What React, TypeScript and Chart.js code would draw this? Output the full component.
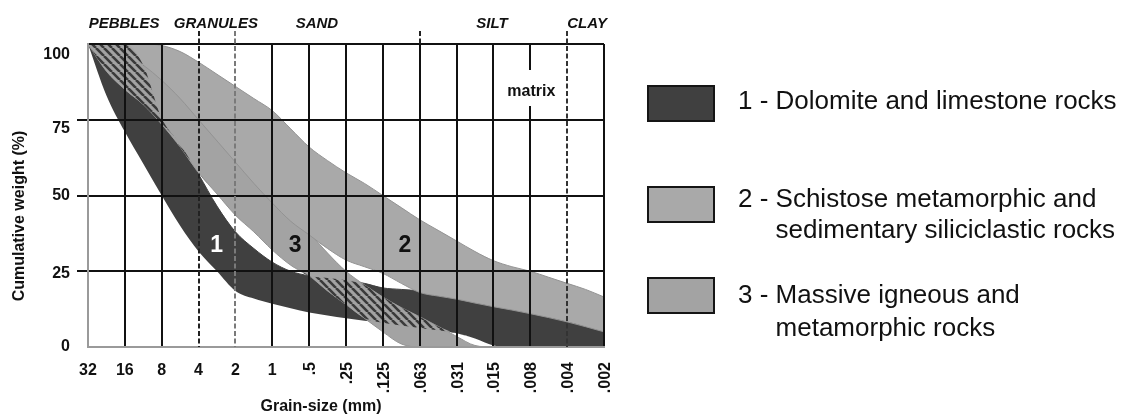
import { useEffect, useRef } from "react";
import { Chart, registerables } from "chart.js";

Chart.register(...registerables);

const FONT = '"Liberation Sans", Arial, Helvetica, sans-serif';

// Sieve classes along the x axis (phi steps 0..14)
const GRAIN_SIZES = ["32", "16", "8", "4", "2", "1", ".5", ".25", ".125", ".063", ".031", ".015", ".008", ".004", ".002"];
const UPRIGHT_LABELS = 6; // the coarser sizes are written horizontally, the rest on end

// Cumulative weight curves sampled every half step
const STEPS = [0, 0.5, 1, 1.5, 2, 2.5, 3, 3.5, 4, 4.5, 5, 5.5, 6, 6.5, 7, 7.5, 8, 8.5, 9, 9.5, 10, 10.5, 11, 11.5, 12, 12.5, 13, 13.5, 14];

const DOLOMITE_LOWER = [100, 83, 71, 60.5, 50, 40, 31.5, 25, 18.5, 16, 14.3, 12.8, 11.4, 10.4, 9.5, 8.7, 8, 7.1, 6.3, 5.5, 4.5, 2.8, 0.5, 0, 0, 0, 0, 0, 0];
const DOLOMITE_UPPER = [100, 100, 100, 93, 75.5, 67, 57, 46.5, 38, 32.5, 28, 25, 23.5, 22.8, 22, 21, 19.5, 19, 18.5, 17.3, 16.3, 15.2, 14, 13, 12, 10.8, 9.5, 8, 6.5];

const SCHIST_LOWER = [100, 99, 97, 93, 88, 82, 75, 68, 61, 54, 47.5, 41.5, 37, 32.5, 28.7, 26.5, 24.3, 21, 18, 16.8, 15.8, 14.5, 13.3, 12.2, 11, 9.7, 8.3, 6.7, 5];
const SCHIST_UPPER = [100, 100, 100, 100, 99.5, 97.5, 94, 90, 86, 82, 78, 72, 66, 61.5, 57.5, 54, 50, 46, 42, 38.5, 35, 31.5, 28.5, 26.5, 25, 23, 21, 19, 16.5];

const IGNEOUS_LOWER = [100, 91, 85, 80, 73.5, 66, 57.5, 50.5, 43.5, 38, 32, 27, 23.5, 18.5, 14, 9.5, 5, 1, 0, 0, 0, 0, 0, 0, 0, 0, 0, 0, 0];
const IGNEOUS_UPPER = [100, 100, 100, 98, 93, 87, 81, 75, 69, 62.5, 55, 46.5, 38, 31, 25, 20.5, 16.5, 13, 10, 6.8, 3.5, 0.5, 0, 0, 0, 0, 0, 0, 0];

// Overlap of bands 1 and 3, shown hatched
const OVERLAP_LOWER = STEPS.map((_, i) => Math.max(DOLOMITE_LOWER[i], IGNEOUS_LOWER[i]));
const OVERLAP_UPPER = STEPS.map((_, i) => Math.max(OVERLAP_LOWER[i], Math.min(DOLOMITE_UPPER[i], IGNEOUS_UPPER[i])));

const Y_TICKS = [0, 25, 50, 75, 100];

const CLASS_NAMES = ["PEBBLES", "GRANULES", "SAND", "SILT", "CLAY"];
const CLASS_CENTERS = [0.98, 3.47, 6.21, 10.96, 13.54];

const DARK = "#404040";
const LIGHT = "#a9a9a9";
const MID = "#a3a3a3";

const LEGEND_ITEMS = [
  { color: DARK, lines: ["1 - Dolomite and limestone rocks"] },
  { color: LIGHT, lines: ["2 - Schistose metamorphic and", "sedimentary siliciclastic rocks"] },
  { color: MID, lines: ["3 - Massive igneous and", "metamorphic rocks"] },
];

const BAND_TAGS = [
  { text: "1", step: 3.49, value: 31.4, color: "#ffffff" },
  { text: "3", step: 5.62, value: 31.4, color: "#111111" },
  { text: "2", step: 8.6, value: 31.4, color: "#111111" },
];

function makeHatch(): CanvasPattern | string {
  const c = document.createElement("canvas");
  c.width = 8;
  c.height = 8;
  const g = c.getContext("2d");
  if (!g) return "#777";
  g.fillStyle = "#a2a2a2";
  g.fillRect(0, 0, 8, 8);
  g.strokeStyle = "#3a3a3a";
  g.lineWidth = 2.6;
  g.beginPath();
  for (const k of [-8, 0, 8]) {
    g.moveTo(k, 0);
    g.lineTo(k + 8, 8);
  }
  g.stroke();
  return g.createPattern(c, "repeat") ?? "#777";
}

const pts = (ys: number[]) => STEPS.map((x, i) => ({ x, y: ys[i] }));

function edge(data: number[], order: number, fill: any, bg: any, border: string, width: number) {
  return {
    data: pts(data),
    order,
    fill,
    backgroundColor: bg,
    borderColor: border,
    borderWidth: width,
    pointRadius: 0,
    cubicInterpolationMode: "monotone",
  };
}

const annotations = {
  id: "sieveAnnotations",
  afterDraw(chart: any) {
    const { ctx, chartArea: area } = chart;
    const xs = chart.scales.x;
    const ys = chart.scales.y;
    ctx.save();

    // class boundaries (dashed), with marks above the frame
    const bounds = [
      { step: 3, color: "#222", full: true },
      { step: 4, color: "#7a7a7a", full: true },
      { step: 9, color: "#222", full: false },
      { step: 13, color: "#333", full: true },
    ];
    ctx.lineWidth = 2;
    ctx.setLineDash([5, 2.5]);
    for (const b of bounds) {
      const px = Math.round(xs.getPixelForValue(b.step));
      ctx.strokeStyle = b.color;
      ctx.beginPath();
      ctx.moveTo(px, area.top - 13);
      ctx.lineTo(px, b.full ? area.bottom : area.top);
      ctx.stroke();
    }
    ctx.setLineDash([]);

    // matrix note, breaking the .008 line
    const mx = xs.getPixelForValue(12);
    ctx.fillStyle = "#ffffff";
    ctx.fillRect(mx - 3, 70, 6, 36);
    ctx.fillStyle = "#111";
    ctx.font = `bold 16px ${FONT}`;
    ctx.textAlign = "center";
    ctx.textBaseline = "alphabetic";
    ctx.fillText("matrix", mx + 1, 96);

    // band numbers
    ctx.font = `bold 23px ${FONT}`;
    for (const t of BAND_TAGS) {
      ctx.fillStyle = t.color;
      ctx.fillText(t.text, xs.getPixelForValue(t.step), ys.getPixelForValue(t.value));
    }

    // class names above the frame
    ctx.fillStyle = "#111";
    ctx.font = `italic bold 15px ${FONT}`;
    CLASS_NAMES.forEach((name, i) => {
      ctx.fillText(name, xs.getPixelForValue(CLASS_CENTERS[i]), 28);
    });

    // grain-size labels
    ctx.font = `bold 16px ${FONT}`;
    GRAIN_SIZES.forEach((label, i) => {
      const px = xs.getPixelForValue(i);
      if (i < UPRIGHT_LABELS) {
        ctx.textAlign = "center";
        ctx.fillText(label, px, area.bottom + 28);
      } else {
        ctx.save();
        ctx.translate(px, area.bottom + 15);
        ctx.rotate(-Math.PI / 2);
        ctx.textAlign = "right";
        ctx.fillText(label, 0, 6);
        ctx.restore();
      }
    });

    // weight labels
    const nudge = [0, 2.5, 0.5, 8.5, 11];
    ctx.textAlign = "right";
    ctx.textBaseline = "middle";
    Y_TICKS.forEach((v, i) => {
      ctx.fillText(String(v), area.left - 18, ys.getPixelForValue(v) + nudge[i]);
    });
    ctx.textBaseline = "alphabetic";

    // axis titles
    ctx.textAlign = "center";
    ctx.fillText("Grain-size (mm)", 321, 411);
    ctx.save();
    ctx.translate(23.5, 216);
    ctx.rotate(-Math.PI / 2);
    ctx.fillText("Cumulative weight (%)", 0, 0);
    ctx.restore();

    // legend
    const boxes = [86, 187, 278];
    const baselines = [[109], [207, 238], [303, 336]];
    ctx.font = `26px ${FONT}`;
    ctx.textAlign = "left";
    LEGEND_ITEMS.forEach((item, i) => {
      ctx.fillStyle = item.color;
      ctx.fillRect(648, boxes[i], 66, 35);
      ctx.strokeStyle = "#151515";
      ctx.lineWidth = 2;
      ctx.strokeRect(648, boxes[i], 66, 35);
      ctx.fillStyle = "#111";
      const indent = ctx.measureText(item.lines[0].slice(0, 4)).width;
      item.lines.forEach((line, j) => {
        ctx.fillText(line, 738 + (j > 0 ? indent : 0), baselines[i][j]);
      });
    });

    ctx.restore();
  },
};

export default function App() {
  const canvasRef = useRef<HTMLCanvasElement | null>(null);

  useEffect(() => {
    const canvas = canvasRef.current;
    if (!canvas) return;
    const hatch = makeHatch();
    const band = "#939393";

    const chart = new Chart(canvas, {
      type: "line",
      data: {
        datasets: [
          edge(DOLOMITE_LOWER, 4, false, "transparent", "transparent", 0),
          edge(DOLOMITE_UPPER, 4, "-1", DARK, DARK, 1),
          edge(IGNEOUS_LOWER, 3, false, "transparent", band, 1),
          edge(IGNEOUS_UPPER, 3, "-1", MID, band, 1),
          edge(SCHIST_LOWER, 2, false, "transparent", band, 1),
          edge(SCHIST_UPPER, 2, "-1", LIGHT, band, 1),
          edge(OVERLAP_LOWER, 1, false, "transparent", "transparent", 0),
          edge(OVERLAP_UPPER, 1, "-1", hatch, "transparent", 0),
        ] as any,
      },
      options: {
        responsive: false,
        animation: false,
        events: [],
        layout: { padding: { left: 0, top: 44, right: 528, bottom: 48 } },
        plugins: {
          legend: { display: false },
          tooltip: { enabled: false },
          title: { display: false },
        },
        scales: {
          x: {
            type: "linear",
            min: 0,
            max: 14,
            afterBuildTicks: (s: any) => {
              s.ticks = GRAIN_SIZES.map((_, i) => ({ value: i }));
            },
            afterFit: (s: any) => {
              s.height = 20;
            },
            ticks: { display: false },
            grid: {
              z: 1,
              drawTicks: false,
              lineWidth: 2,
              color: (c: any) => {
                const v = c.tick ? c.tick.value : -1;
                if (v === 0) return "#9a9a9a";
                if (v === 3 || v === 4 || v === 13) return "transparent";
                return "#111";
              },
            },
            border: { z: 1, color: "#9a9a9a", width: 2 },
          },
          y: {
            type: "linear",
            min: 0,
            max: 100,
            afterFit: (s: any) => {
              s.width = 88;
            },
            ticks: { display: false, stepSize: 25 },
            grid: {
              z: 1,
              lineWidth: 2,
              tickLength: 11,
              color: (c: any) => (c.tick && c.tick.value === 0 ? "#9a9a9a" : "#111"),
              tickColor: (c: any) => {
                const v = c.tick ? c.tick.value : 0;
                return v > 0 && v < 100 ? "#111" : "transparent";
              },
            },
            border: { z: 1, color: "#9a9a9a", width: 2 },
          },
        },
      } as any,
      plugins: [annotations],
    });

    return () => chart.destroy();
  }, []);

  return (
    <div style={{ position: "fixed", left: 0, top: 0, width: 1132, height: 415, background: "#fff" }}>
      <canvas ref={canvasRef} width={1132} height={415} style={{ display: "block" }} />
    </div>
  );
}
